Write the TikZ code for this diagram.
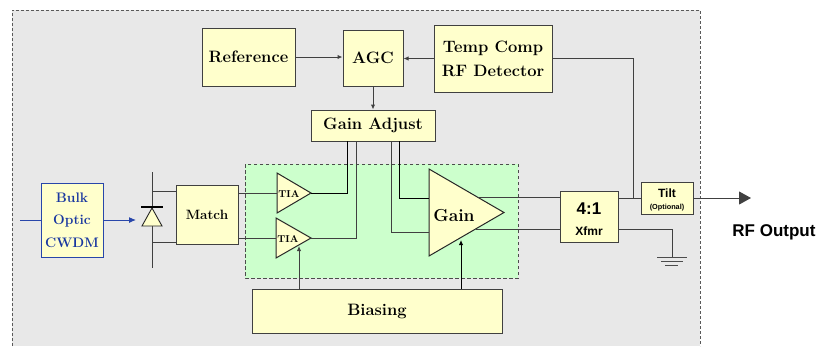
\documentclass[tikz,border=0pt]{standalone}
\usepackage{fontspec}
\newfontfamily\sansbold{Liberation Sans}[BoldFont={Liberation Sans Bold}]
\usetikzlibrary{arrows.meta,calc}
\definecolor{boxyellow}{RGB}{255,255,204}
\definecolor{bggray}{RGB}{232,232,232}
\definecolor{greenfill}{RGB}{204,255,204}
\definecolor{bulkblue}{RGB}{40,70,170}
\definecolor{bulktext}{RGB}{25,55,160}
\tikzset{
  blk/.style={draw=black!75, line width=1pt, fill=boxyellow, inner sep=0pt, align=center,
              font=\bfseries\fontsize{16.5}{24}\selectfont},
  wire/.style={draw=black!75, line width=1pt},
  arr/.style={wire, -{Latex[length=5pt,width=4.5pt]}},
  tri/.style={draw=black!85, line width=1pt, fill=boxyellow, line join=miter},
  sanslab/.style={font=\sansbold\bfseries},
}
\begin{document}
\begin{tikzpicture}[x=1pt,y=-1pt]
\useasboundingbox (0,0) rectangle (819,346);
% outer gray area
\fill[bggray] (12,10) rectangle (700,346);
\draw[black!65, line width=1pt, dashed, dash pattern=on 3pt off 2pt] (12,346) -- (12,10) -- (700,10) -- (700,346);
% green area
\draw[fill=greenfill, draw=black!70, line width=1pt, dash pattern=on 3.5pt off 2.5pt] (245,164) rectangle (518,278);

% top blocks
\node[blk, minimum width=93pt, minimum height=58pt] (ref) at (248.5,57) {Reference};
\node[blk, minimum width=60pt, minimum height=56pt] (agc) at (373,58) {AGC};
\node[blk, minimum width=118pt, minimum height=67pt] (tc) at (493,58.5) {Temp Comp\\RF Detector};
\node[blk, minimum width=124pt, minimum height=31pt] (ga) at (373,125.5) {Gain Adjust};

% left blocks
\node[blk, draw=bulkblue, text=bulktext, minimum width=62pt, minimum height=74pt,
      font=\bfseries\fontsize{13.8}{22.5}\selectfont] (bulk) at (72,220) {Bulk\\Optic\\CWDM};
\node[blk, minimum width=62pt, minimum height=59pt, font=\bfseries\fontsize{13.5}{16}\selectfont] (match) at (207,214.5) {Match};

% bottom
\node[blk, minimum width=250pt, minimum height=44pt] (bias) at (377,311) {Biasing};

% right blocks
\node[blk, minimum width=58pt, minimum height=51pt] (xf) at (589,216.5) {};
\node[sanslab, font=\sansbold\bfseries\fontsize{17}{20}\selectfont] (xf41) at (589,209) {4:1};
\node[sanslab, font=\sansbold\bfseries\fontsize{12}{14}\selectfont] (xfmr) at (589,231) {Xfmr};
\node[blk, minimum width=52pt, minimum height=32pt] (tilt) at (667,198) {};
\node[font=\sansbold\bfseries\fontsize{12}{14}\selectfont] (tiltlab) at (667,193) {Tilt};
\node[font=\sansbold\bfseries\fontsize{7.3}{9}\selectfont] (optlab) at (667,208) {(Optional)};
\node[font=\sansbold\bfseries\fontsize{17}{20}\selectfont] (rfout) at (774,232) {RF Output};

% triangles (amplifiers)
\coordinate (t1a) at (277,173); \coordinate (t1b) at (277,213); \coordinate (t1o) at (311,193);
\coordinate (t1i) at (277,193);
\draw[tri] (t1a) -- (t1o) -- (t1b) -- cycle;
\node[font=\bfseries\fontsize{10}{12}\selectfont, inner sep=0pt] (tia1) at (289,194) {TIA};
\coordinate (t2a) at (276,218); \coordinate (t2b) at (276,258); \coordinate (t2o) at (311,238);
\coordinate (t2i) at (276,238);
\draw[tri] (t2a) -- (t2o) -- (t2b) -- cycle;
\node[font=\bfseries\fontsize{10}{12}\selectfont, inner sep=0pt] (tia2) at (288,239) {TIA};
\coordinate (ga1) at (429,169); \coordinate (ga2) at (429,256); \coordinate (gao) at (504,212.5);
\draw[tri] (ga1) -- (gao) -- (ga2) -- cycle;
\node[font=\bfseries\fontsize{17.4}{20}\selectfont, inner sep=0pt] (gain) at (454,216) {Gain};

% diode
\coordinate (dtop) at (152,172); \coordinate (dbot) at (152,268);
\draw[wire] (dtop) -- (dbot);
\draw[tri, line width=0.9pt] (152,208) -- (162,226) -- (142,226) -- cycle;
\draw[black, line width=2.5pt] (141,207) -- (163,207);
\coordinate (d1) at (152,191); \coordinate (d2) at (152,242);
\draw[wire] (d1) -- (d1 -| match.west);
\draw[wire] (d2) -- (d2 -| match.west);

% bulk connections
\coordinate (fiber) at (20,220);
\coordinate (dtip) at (136,220);
\draw[bulkblue, line width=1pt] (fiber) -- (bulk.west);
\draw[bulkblue, line width=1pt, -{Latex[length=7pt,width=6pt]}] (bulk.east) -- (dtip);

% match to TIAs
\draw[wire] (t1i -| match.east) -- (t1i);
\draw[wire] (t2i -| match.east) -- (t2i);

% top connections
\draw[arr] (ref.east) -- (ref.east -| agc.west);
\draw[arr] (tc.west) -- (tc.west -| agc.east);
\draw[arr] (agc.south) -- (ga.north);

% gain adjust to TIAs and gain
\coordinate (gaA) at (347,141); \coordinate (gaB) at (356,141);
\coordinate (gaC) at (391,141); \coordinate (gaD) at (399,141);
\draw[wire, black] (t1o) -| (gaA);
\draw[wire] (t2o) -| (gaB);
\coordinate (gin1) at (429,198); \coordinate (gin2) at (429,232);
\draw[wire, black] (gaD) |- (gin1);
\draw[wire] (gaC) |- (gin2);

% gain outputs to xfmr
\coordinate (go1) at (477,197); \coordinate (go2) at (476,229);
\draw[wire] (go1) -- (go1 -| xf.west);
\draw[wire] (go2) -- (go2 -| xf.west);

% xfmr to tilt, feedback to temp comp
\coordinate (xo1) at (618,198);
\coordinate (jn) at (633,198);
\draw[wire] (xo1) -- (xo1 -| tilt.west);
\draw[wire] (tc.east) -| (jn);

% output arrow
\coordinate (rfend) at (751,198);
\draw[black!75, line width=1pt, -{Triangle[length=12pt,width=13pt]}] (tilt.east) -- (rfend);

% ground
\coordinate (xo2) at (618,229);
\coordinate (gnd) at (672,257);
\draw[wire] (xo2) -| (gnd);
\draw[black!70, line width=1pt] (657,257) -- (687,257);
\draw[black!70, line width=1pt] (661,261) -- (683,261);
\draw[black!70, line width=1pt] (665,265) -- (678,265);

% biasing arrows
\coordinate (b1) at (299,289); \coordinate (b1t) at (299,246);
\coordinate (b2) at (461,289); \coordinate (b2t) at (461,240);
\draw[arr] (b1) -- (b1t);
\draw[arr, black] (b2) -- (b2t);
\end{tikzpicture}
\end{document}
